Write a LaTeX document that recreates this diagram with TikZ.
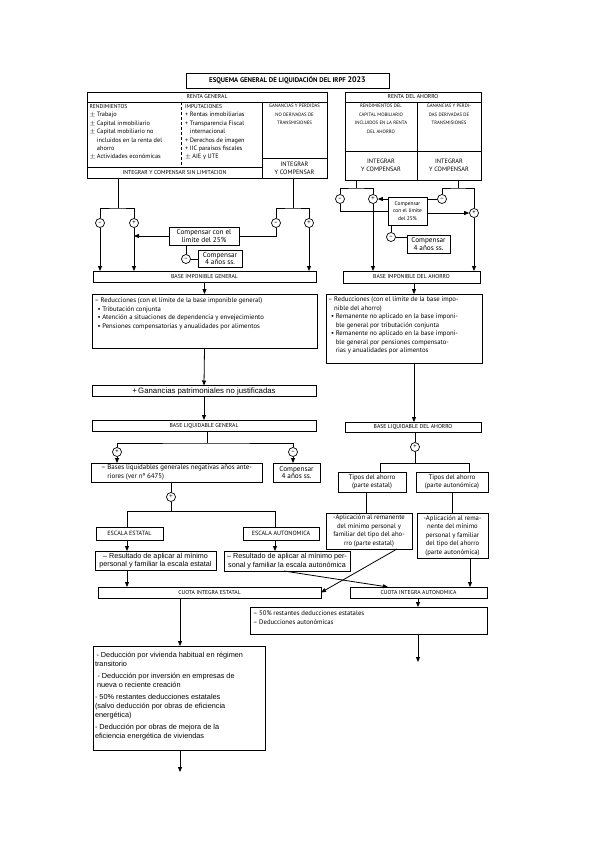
\documentclass[tikz,border=0pt]{standalone}
\usepackage{fontspec}
\setmainfont{PT Sans}
\newfontfamily\arialf{Liberation Sans}
\usetikzlibrary{arrows.meta}
\newcommand\fbody{\fontsize{6.7}{8.5}\selectfont}
\newcommand\ftop{\fontsize{6.3}{8.4}\selectfont}
\newcommand\fcap{\fontsize{5.7}{7}\selectfont}
\newcommand\fcaps{\fontsize{4.8}{8.4}\selectfont}
\newcommand\farial{\arialf\fontsize{7.2}{8.3}\selectfont}
\newcommand\fbig{\arialf\fontsize{7.3}{9.2}\selectfont}
\newcommand\fcomp{\fontsize{7.2}{7.6}\selectfont}
\newcommand\pmx{\ensuremath{\pm}}
\begin{document}
\begin{tikzpicture}[x=1pt,y=-1pt,
 box/.style={draw,line width=0.8pt,inner sep=0pt,outer sep=0pt,align=center},
 sz/.style 2 args={minimum width=#1pt,minimum height=#2pt},
 txt/.style={inner sep=0pt,outer sep=0pt,align=left},
 circ/.style={circle,draw,line width=0.7pt,minimum size=9pt,inner sep=0pt,font=\fontsize{6.5}{6.5}\selectfont},
 ln/.style={line width=0.8pt},
 arr/.style={line width=0.8pt,-{Triangle[length=5pt,width=4pt]}}]
\fill[white] (0,0) rectangle (599,848);
\useasboundingbox (0,0) rectangle (599,848);

% ---------- title
\node[box,sz={203}{15},font=\fontsize{6.8}{8}\selectfont\bfseries] (title) at (287.5,80.5)
  {ESQUEMA GENERAL DE LIQUIDACIÓN DEL IRPF {\fontsize{8}{8}\selectfont 2023}};

% ---------- renta general
\node[box,sz={240}{10},font=\fcap] (rghead) at (207,97) {RENTA GENERAL};
\node[box,sz={175}{65}] (rgleft) at (174.5,134.5) {};
\node[box,sz={65}{56}] (rggan) at (294.5,130) {};
\node[box,sz={65}{20},font=\fontsize{6.3}{8}\selectfont] (rgint2) at (294.5,168) {INTEGRAR\\Y COMPENSAR};
\node[box,sz={175}{11},font=\fcap] (rgint) at (174.5,172.5) {INTEGRAR Y COMPENSAR SIN LIMITACION};
\draw[ln,dash pattern=on 3pt off 2pt] (181,102) -- (181,167);
\node[txt,anchor=north west,font=\ftop] (rendt) at (89.5,104.5)
 {{\fontsize{5.6}{8.4}\selectfont RENDIMIENTOS}\\
  \pmx{} Trabajo\\
  \pmx{} Capital inmobiliario\\
  \pmx{} Capital mobiliario no\\
  \phantom{\pmx{} }incluidos en la renta del\\
  \phantom{\pmx{} }ahorro\\
  \pmx{} Actividades económicas};
\node[txt,anchor=north west,font=\ftop] (impt) at (185,104.5)
 {{\fontsize{5.6}{8.4}\selectfont IMPUTACIONES}\\
  + Rentas inmobiliarias\\
  + Transparencia Fiscal\\
  \phantom{+ }internacional\\
  + Derechos de imagen\\
  + IIC paraísos fiscales\\
  \pmx{} AIE y UTE};
\node[txt,align=center,anchor=north,font=\fcaps] (gant) at (294.5,104.5)
 {GANANCIAS Y PERDIDAS\\NO DERIVADAS DE\\TRANSMISIONES};

% ---------- renta del ahorro
\node[box,sz={136}{10},font=\fcap] (rahead) at (413,97) {RENTA DEL AHORRO};
\node[box,sz={72}{49}] (rarend) at (381,126.5) {};
\node[box,sz={64}{49}] (ragan) at (449,126.5) {};
\node[box,sz={72}{29},font=\fontsize{6.3}{8}\selectfont] (raint1) at (381,165.5) {INTEGRAR\\Y COMPENSAR};
\node[box,sz={64}{29},font=\fontsize{6.3}{8}\selectfont] (raint2) at (449,165.5) {INTEGRAR\\Y COMPENSAR};
\node[txt,align=center,anchor=north,font=\fcaps] (rarendt) at (381,104.5)
 {RENDIMIENTOS DEL\\CAPITAL MOBILIARIO\\INCLUIDOS EN LA RENTA\\DEL AHORRO};
\node[txt,align=center,anchor=north,font=\fcaps] (ragant) at (449,104.5)
 {GANANCIAS Y PERDI-\\DAS DERIVADAS DE\\TRANSMISIONES};

% ---------- general: integration circles
\coordinate (jg1) at (118,208);
\coordinate (jg2) at (293,208);
\node[circ] (c1) at (100,223) {–};
\node[circ] (c2) at (134,223) {+};
\node[circ] (c3) at (276,223) {–};
\node[circ] (c4) at (309,223) {+};
\node[box,sz={70}{18},font=\fcomp] (comp25g) at (204,236) {Compensar con el\\límite del 25\%};
\node[circ] (c5) at (186,259) {–};
\node[box,sz={44}{17},font=\fcomp] (comp4g) at (220,258.5) {Compensar\\4 años ss.};
\node[box,sz={223}{11},font=\fcap] (big) at (204.5,276.5) {BASE IMPONIBLE GENERAL};

\draw[ln] (rgint.south -| jg1) -- (jg1);
\draw[ln] (c1.north) |- (jg1) -| (c2.north);
\draw[ln] (rgint2.south -| jg2) -- (jg2);
\draw[ln] (c3.north) |- (jg2) -| (c4.north);
\draw[arr] (c1.south) -- (c1.south |- big.north);
\draw[arr] (c2.south) -- (c2.south |- big.north);
\draw[arr] (c4.south) -- (c4.south |- big.north);
\draw[ln] (c3.south) |- (comp25g.east);
\draw[arr] (comp25g.west) -- (comp25g.west -| c2);
\draw[ln] (comp25g.south -| c5) -- (c5.north);
\draw[ln] (c5.east) -- (c5 -| comp4g.west);

% ---------- ahorro: integration circles
\coordinate (ja1) at (356,188);
\coordinate (ja2) at (458,188);
\node[circ] (c9) at (340,199) {–};
\node[circ] (c10) at (373,199) {+};
\node[circ] (c11) at (442,199) {–};
\node[circ] (c12) at (474,213) {+};
\node[box,sz={39}{28},font=\fontsize{5.4}{7.8}\selectfont] (comp25a) at (407.5,211) {Compensar\\con el límite\\del 25\%};
\node[circ] (c13) at (391,237) {–};
\node[box,sz={43}{18},font=\fcomp] (comp4a) at (428.5,244) {Compensar\\4 años ss.};
\node[box,sz={137}{12},font=\fcap] (bia) at (411.5,277) {BASE IMPONIBLE DEL AHORRO};

\draw[ln] (raint1.south -| ja1) -- (ja1);
\draw[ln] (c9.north) |- (ja1) -| (c10.north);
\draw[ln] (raint2.south -| ja2) -- (ja2);
\draw[ln] (c11.north) |- (ja2) -| (c12.north);
\draw[ln] (c9.south) |- (comp25a.west);
\draw[arr] (comp25a.west |- c10) -- (c10.east);
\draw[arr] (comp25a.east |- c12) -- (c12.west);
\draw[ln] (c11.west) -- (c11 -| comp25a.east);
\draw[ln] (comp25a.south -| c13) -- (c13.north);
\draw[ln] (c13.east) -- (c13 -| comp4a.west);
\draw[arr] (c10.south) -- (c10.south |- bia.north);
\draw[arr] (c12.south) -- (c12.south |- bia.north);

% ---------- reductions
\node[box,sz={225}{54}] (rgred) at (204.5,321) {};
\node[txt,anchor=north west,font=\fbody] (rgredt) at (94.5,298)
 {– Reducciones (con el límite de la base imponible general)\\
  \hspace*{3pt}• Tributación conjunta\\
  \hspace*{3pt}• Atención a situaciones de dependencia y envejecimiento\\
  \hspace*{3pt}• Pensiones compensatorias y anualidades por alimentos};
\node[box,sz={156}{69}] (rared) at (404,328.5) {};
\node[txt,anchor=north west,font=\fbody] (raredt) at (328,297)
 {– Reducciones (con el límite de la base impo-\\
  \phantom{– }nible del ahorro)\\
  \hspace*{3pt}• Remanente no aplicado en la base imponi-\\
  \hspace*{3pt}\phantom{• }ble general por tributación conjunta\\
  \hspace*{3pt}• Remanente no aplicado en la base imponi-\\
  \hspace*{3pt}\phantom{• }ble general por pensiones compensato-\\
  \hspace*{3pt}\phantom{• }rias y anualidades por alimentos};
\coordinate (k3) at (414,0);
\draw[arr] (big.south) -- (rgred.north);
\draw[arr] (bia.south -| k3) -- (k3 |- rared.north);

\node[box,sz={224}{11},font=\arialf\fontsize{7.8}{8}\selectfont] (gan) at (204,391) {+\,Ganancias patrimoniales no justificadas};
\node[box,sz={224}{11},font=\fcap] (blg) at (204,425.5) {BASE LIQUIDABLE GENERAL};
\node[box,sz={136}{10},font=\fcap] (bla) at (413,427) {BASE LIQUIDABLE DEL AHORRO};
\draw[arr] (rgred.south) -- (gan.north);
\draw[arr] (gan.south) -- (blg.north);
\draw[arr] (rared.south -| k3) -- (k3 |- bla.north);

% ---------- liquidable general
\coordinate (jl) at (207,443);
\node[circ] (c6) at (117,452) {+};
\node[circ] (c7) at (293,452) {–};
\node[box,sz={171}{19},font=\fontsize{6.9}{8.5}\selectfont,align=left] (bases) at (176.5,472.5)
 {– Bases liquidables generales negativas años ante-\\\phantom{– }riores (ver nº 6475)};
\node[box,sz={47}{19},font=\fcomp] (comp4g2) at (296.5,472.5) {Compensar\\4 años ss.};
\draw[ln] (blg.south -| jl) -- (jl);
\draw[ln] (c6.north) |- (jl) -| (c7.north);
\draw[arr] (c6.south) -- (c6.south |- bases.north);
\draw[arr] (c7.south) -- (c7.south |- comp4g2.north);

\node[circ] (c8) at (171,497) {+};
\coordinate (jb) at (171,511);
\coordinate (jbl) at (127,511);
\coordinate (jbr) at (275,511);
\node[box,sz={67}{13},font=\fontsize{6.1}{7}\selectfont] (ee) at (129.5,533.5) {ESCALA ESTATAL};
\node[box,sz={76}{13},font=\fontsize{6.1}{7}\selectfont] (ea) at (281,533.5) {ESCALA AUTONOMICA};
\draw[ln] (bases.south -| c8) -- (c8.north);
\draw[ln] (c8.south) -- (jb);
\draw[ln] (jbl) -- (jbr);
\draw[ln] (jbl) -- (jbl |- ee.north);
\draw[ln] (jbr) -- (jbr |- ea.north);

\node[box,sz={121}{19},font=\farial] (eres) at (155.5,560.5) {– Resultado de aplicar al mínimo\\personal y familiar la escala estatal};
\node[box,sz={126}{20},font=\farial] (ares) at (287,561) {– Resultado de aplicar al mínimo per-\\sonal y familiar la escala autonómica};
\draw[arr] (ee.south -| jbl) -- (jbl |- eres.north);
\draw[arr] (ea.south -| jbr) -- (jbr |- ares.north);

\node[box,sz={223}{11},font=\fcap] (cie) at (209.5,592.5) {CUOTA INTEGRA ESTATAL};
\node[box,sz={137}{11},font=\fcap] (cia) at (418.5,592.5) {CUOTA INTEGRA AUTONOMICA};
\draw[arr] (eres.south -| jbl) -- (jbl |- cie.north);

% ---------- liquidable ahorro
\node[circ] (c14) at (415,447) {+};
\coordinate (jr) at (415,463);
\coordinate (jrl) at (380,463);
\coordinate (jrr) at (469,463);
\node[box,sz={68}{20},font=\fbody] (tipe) at (372,482) {Tipos del ahorro\\(parte estatal)};
\node[box,sz={72}{20},font=\fbody] (tipa) at (452,482) {Tipos del ahorro\\(parte autonómica)};
\draw[ln] (bla.south -| c14) -- (c14.north);
\draw[ln] (c14.south) -- (jr);
\draw[ln] (jrl) -- (jrr);
\draw[ln] (jrl) -- (jrl |- tipe.north);
\draw[ln] (jrr) -- (jrr |- tipa.north);

\coordinate (k4) at (366,0);
\coordinate (k5) at (470,0);
\node[box,sz={86}{36},font=\fbody] (aplest) at (369,531)
 {-Aplicación al remanente\\del mínimo personal y\\familiar del tipo del aho-\\rro (parte estatal)};
\node[box,sz={71}{45},font=\fbody] (aplaut) at (452.5,535.5)
 {-Aplicación al rema-\\nente del mínimo\\personal y familiar\\del tipo del ahorro\\(parte autonómica)};
\draw[ln] (tipe.south -| k4) -- (k4 |- aplest.north);
\draw[ln] (tipa.south) -- (tipa.south |- aplaut.north);
\draw[arr] (aplaut.south -| k5) -- (k5 |- cia.north);

% crossing arrows
\coordinate (k1) at (388,0);
\coordinate (k2) at (397,0);
\coordinate (k8) at (284,0);
\draw[arr] (k8 |- ares.south) -- (k1 |- cia.north);
\draw[arr] (k2 |- aplest.south) -- (cie.east);

% ---------- deductions
\coordinate (k6) at (418,0);
\coordinate (k7) at (180,0);
\coordinate (e1) at (180,772);
\coordinate (e2) at (418,662);
\node[box,sz={237}{27}] (dedaut) at (368.5,620.5) {};
\node[txt,anchor=north west,font=\fbody] (dedautt) at (253,611)
 {– 50\% restantes deducciones estatales\\– Deducciones autonómicas};
\draw[arr] (cia.south -| k6) -- (k6 |- dedaut.north);
\draw[arr] (dedaut.south -| k6) -- (e2);

\node[box,sz={172}{104}] (bigded) at (179,698) {};
\node[txt,anchor=north west,font=\fbig] (bigdedt) at (95,652)
 {\hspace*{1.5pt}- Deducción por vivienda habitual en régimen\\
  transitorio\\[2.5pt]
  \hspace*{2.5pt}- Deducción por inversión en empresas de\\
  \hspace*{2pt}nueva o reciente creación\\[2.5pt]
  - 50\% restantes deducciones estatales\\
  (salvo deducción por obras de eficiencia\\
  energética)\\[2.5pt]
  - Deducción por obras de mejora de la\\
  eficiencia energética de viviendas};
\draw[arr] (cie.south -| k7) -- (k7 |- bigded.north);
\draw[arr] (bigded.south -| k7) -- (e1);
\end{tikzpicture}
\end{document}
